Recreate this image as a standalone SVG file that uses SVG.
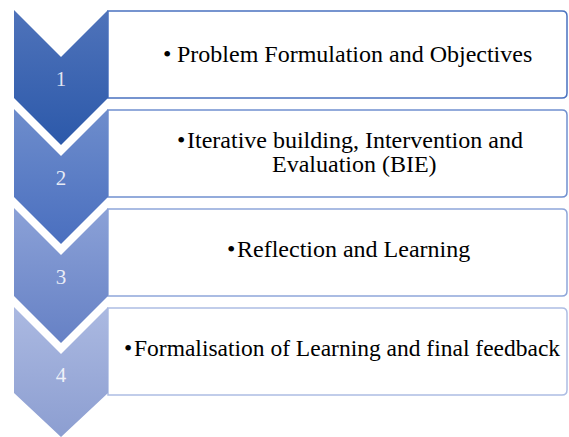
<svg xmlns="http://www.w3.org/2000/svg" width="569" height="437" viewBox="0 0 569 437">
  <defs>
    <linearGradient id="g1" x1="0" y1="0" x2="0" y2="1"><stop offset="0" stop-color="#4f73ba"/><stop offset="1" stop-color="#2c59aa"/></linearGradient>
    <linearGradient id="g2" x1="0" y1="0" x2="0" y2="1"><stop offset="0" stop-color="#6e8dcc"/><stop offset="1" stop-color="#4a6fbf"/></linearGradient>
    <linearGradient id="g3" x1="0" y1="0" x2="0" y2="1"><stop offset="0" stop-color="#8ba1d7"/><stop offset="1" stop-color="#6681c5"/></linearGradient>
    <linearGradient id="g4" x1="0" y1="0" x2="0" y2="1"><stop offset="0" stop-color="#abb9e1"/><stop offset="1" stop-color="#8c9ed1"/></linearGradient>
  </defs>
  <style>
    .box { fill: #ffffff; stroke-width: 1.5; }
    .chev { stroke: none; }
    .num { font-family: "Liberation Serif", "Times New Roman", serif; font-size: 21px; fill: #ffffff; fill-opacity: 0.85; text-anchor: middle; }
    .lbl { font-family: "Liberation Serif", "Times New Roman", serif; font-size: 24px; fill: #000000; }
  </style>
  <g id="connectors"></g>
  <g id="step1">
    <path class="box" stroke="#4a72c0" d="M108 11 H562 Q567 11 567 16 V93 Q567 98 562 98 H108 Z"/>
    <path class="chev" fill="url(#g1)" d="M14 10 L61 57 L108 10 L108 98 L61 145 L14 98 Z"/>
    <text class="num" x="61" y="86">1</text>
    <text class="lbl" y="62"><tspan x="163">•</tspan><tspan x="177">Problem Formulation and Objectives</tspan></text>
  </g>
  <g id="step2">
    <path class="box" stroke="#7090d0" d="M108 110 H562 Q567 110 567 115 V192 Q567 197 562 197 H108 Z"/>
    <path class="chev" fill="url(#g2)" d="M14 109 L61 156 L108 109 L108 197 L61 244 L14 197 Z"/>
    <text class="num" x="61" y="185">2</text>
    <text class="lbl" y="148"><tspan x="177">•</tspan><tspan x="187">Iterative building, Intervention and</tspan></text>
    <text class="lbl" x="272" y="172">Evaluation (BIE)</text>
  </g>
  <g id="step3">
    <path class="box" stroke="#8ea6da" d="M108 209 H562 Q567 209 567 214 V291 Q567 296 562 296 H108 Z"/>
    <path class="chev" fill="url(#g3)" d="M14 208 L61 255 L108 208 L108 296 L61 343 L14 296 Z"/>
    <text class="num" x="61" y="284">3</text>
    <text class="lbl" y="257"><tspan x="227">•</tspan><tspan x="237">Reflection and Learning</tspan></text>
  </g>
  <g id="step4">
    <path class="box" stroke="#adbde4" d="M108 308 H562 Q567 308 567 313 V390 Q567 395 562 395 H108 Z"/>
    <path class="chev" fill="url(#g4)" d="M14 307 L61 354 L108 307 L108 393 L61 437 L14 393 Z"/>
    <text class="num" x="61" y="382">4</text>
    <text class="lbl" y="356" style="font-size:23.5px"><tspan x="124">•</tspan><tspan x="134">Formalisation of Learning and final feedback</tspan></text>
  </g>
</svg>
